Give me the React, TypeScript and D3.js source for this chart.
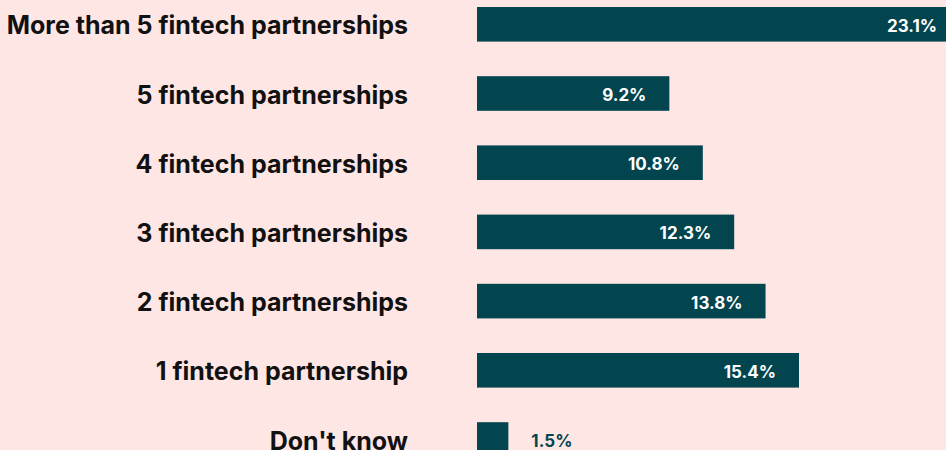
import * as React from "react";
import { scaleBand, scaleLinear } from "d3";

const categories = [
  "More than 5 fintech partnerships",
  "5 fintech partnerships",
  "4 fintech partnerships",
  "3 fintech partnerships",
  "2 fintech partnerships",
  "1 fintech partnership",
  "Don't know",
];
const shares = [23.1, 9.2, 10.8, 12.3, 13.8, 15.4, 1.5];

const BG = "#fee6e5";
const BAR = "#02454f";
const FONT = "Inter, 'Noto Sans', sans-serif";

export default function App() {
  const width = 946;
  const height = 450;
  const barLeft = 477;

  const x = scaleLinear().domain([0, 23.1]).range([0, 483]);
  const y = scaleBand<string>()
    .domain(categories)
    .range([7, 456.8])
    .paddingInner(0.5)
    .paddingOuter(0);

  return (
    <svg
      width={width}
      height={height}
      style={{ position: "absolute", left: 0, top: 0, display: "block" }}
    >
      <rect width={width} height={height} fill={BG} />
      {categories.map((c, i) => {
        const v = shares[i];
        const top = y(c) ?? 0;
        const bh = y.bandwidth();
        const cy = top + bh / 2;
        const w = x(v);
        const inside = w > 80;
        return (
          <g key={c}>
            <text
              x={408}
              y={cy + 1}
              textAnchor="end"
              dominantBaseline="central"
              fontFamily={FONT}
              fontWeight={700}
              fontSize={25}
              fill="#111111"
            >
              {c}
            </text>
            <rect x={barLeft} y={top} width={w} height={bh} fill={BAR} />
            <text
              x={inside ? barLeft + w - 23 : barLeft + w + 23}
              y={cy + 1.5}
              textAnchor={inside ? "end" : "start"}
              dominantBaseline="central"
              fontFamily={FONT}
              fontWeight={700}
              fontSize={17}
              fill={inside ? "#ffffff" : BAR}
            >
              {v.toFixed(1)}%
            </text>
          </g>
        );
      })}
    </svg>
  );
}
